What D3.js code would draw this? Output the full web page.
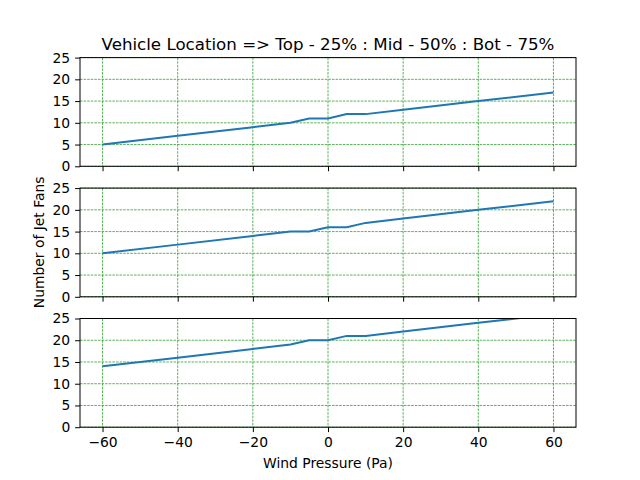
<!DOCTYPE html>
<html><head><meta charset="utf-8">
<script src="https://cdn.jsdelivr.net/npm/d3@7"></script>
<style>body{margin:0;background:#fff}svg{display:block}text{font-family:"DejaVu Sans",sans-serif}</style>
</head><body><svg id="c" width="640" height="480"></svg>
<script>
const pressure = [-60, -40, -20, -10, -5, 0, 5, 10, 20, 40, 60];
const fansTop = [5, 7, 9, 10, 11, 11, 12, 12, 13, 15, 17];
const fansMid = [10, 12, 14, 15, 15, 16, 16, 17, 18, 20, 22];
const fansBot = [14, 16, 18, 19, 20, 20, 21, 21, 22, 24, 26];
const xTicks = [-60, -40, -20, 0, 20, 40, 60];
const yTicks = [0, 5, 10, 15, 20, 25];
const titleText = "Vehicle Location => Top - 25% : Mid - 50% : Bot - 75%";

const svg = d3.select("#c");
const L = 80, R = 576;
const panels = [
  {top: 57.6, bottom: 166.3, data: fansTop},
  {top: 188.1, bottom: 296.8, data: fansMid},
  {top: 318.5, bottom: 427.2, data: fansBot}
];
const x = d3.scaleLinear().domain([-66, 66]).range([L, R]);
const fs = 13.89;

panels.forEach((p, i) => {
  const y = d3.scaleLinear().domain([0, 25]).range([p.bottom, p.top]);
  const g = svg.append("g");
  const clipId = "clip" + i;
  svg.append("clipPath").attr("id", clipId).append("rect")
    .attr("x", L).attr("y", p.top).attr("width", R - L).attr("height", p.bottom - p.top);
  const grid = g.append("g").attr("stroke", "#2ca02c").attr("stroke-width", 0.8).attr("stroke-dasharray", "2.5,1.1");
  grid.selectAll("line.v").data(xTicks).join("line")
    .attr("x1", d => x(d)).attr("x2", d => x(d)).attr("y1", p.top).attr("y2", p.bottom);
  grid.selectAll("line.h").data(yTicks).join("line")
    .attr("x1", L).attr("x2", R).attr("y1", d => y(d)).attr("y2", d => y(d));
  const line = d3.line().x((d, k) => x(pressure[k])).y(d => y(d));
  g.append("path").datum(p.data).attr("d", line).attr("fill", "none")
    .attr("stroke", "#1f77b4").attr("stroke-width", 2).attr("clip-path", `url(#${clipId})`);
  const xa = d3.axisBottom(x).tickValues(xTicks).tickSize(4.9).tickPadding(4.9)
    .tickFormat(i === 2 ? (d => String(d).replace("-", "\u2212")) : () => "");
  const gx = g.append("g").attr("transform", `translate(0,${p.bottom})`).call(xa);
  const ya = d3.axisLeft(y).tickValues(yTicks).tickSize(4.9).tickPadding(4.9);
  const gy = g.append("g").attr("transform", `translate(${L},0)`).call(ya);
  [gx, gy].forEach(a => {
    a.select(".domain").remove();
    a.selectAll("line").attr("stroke", "#000").attr("stroke-width", 1);
    a.selectAll("text").attr("font-size", fs).attr("fill", "#000").attr("font-family", "DejaVu Sans");
  });
  g.append("rect").attr("x", L).attr("y", p.top).attr("width", R - L).attr("height", p.bottom - p.top)
    .attr("fill", "none").attr("stroke", "#000").attr("stroke-width", 1);
});

svg.append("text").attr("x", (L + R) / 2).attr("y", 49.5).attr("text-anchor", "middle")
  .attr("font-size", 16.67).text(titleText);
svg.append("text").attr("x", (L + R) / 2).attr("y", 468).attr("text-anchor", "middle")
  .attr("font-size", fs).text("Wind Pressure (Pa)");
svg.append("text").attr("transform", `translate(44,242.4) rotate(-90)`).attr("text-anchor", "middle")
  .attr("font-size", fs).text("Number of Jet Fans");
</script></body></html>
